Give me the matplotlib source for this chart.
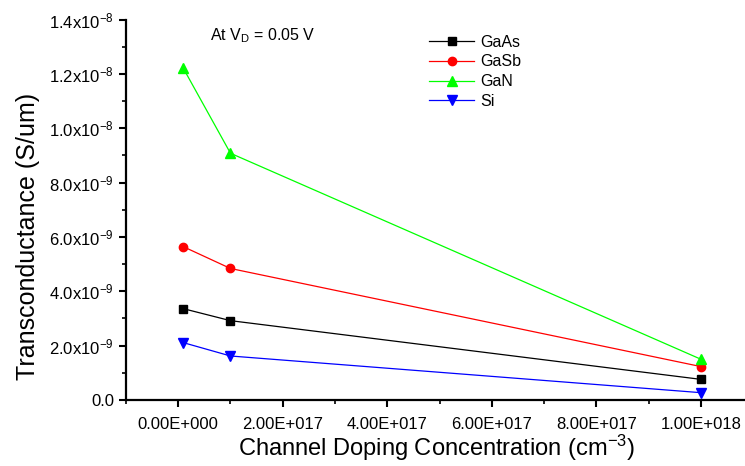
import matplotlib.pyplot as plt
from matplotlib.ticker import MultipleLocator

plt.rcParams['font.family'] = ['Liberation Sans', 'DejaVu Sans']
plt.rcParams['mathtext.fontset'] = 'custom'
plt.rcParams['mathtext.rm'] = 'Liberation Sans'
plt.rcParams['mathtext.it'] = 'Liberation Sans:italic'

# doping (cm^-3)
doping = [1e16, 1e17, 1e18]
# transconductance (S/um)
gaas = [3.36e-9, 2.92e-9, 0.76e-9]
gasb = [5.64e-9, 4.84e-9, 1.23e-9]
gan = [12.2e-9, 9.08e-9, 1.5e-9]
si = [2.11e-9, 1.62e-9, 0.27e-9]

xticks = [0, 2e17, 4e17, 6e17, 8e17, 1e18]
xticklabels = ['0.00E+000', '2.00E+017', '4.00E+017', '6.00E+017', '8.00E+017', '1.00E+018']
yticks = [0, 2e-9, 4e-9, 6e-9, 8e-9, 1e-8, 1.2e-8, 1.4e-8]
yticklabels = ['0.0', '2.0x10$^{-9}$', '4.0x10$^{-9}$', '6.0x10$^{-9}$', '8.0x10$^{-9}$',
               '1.0x10$^{-8}$', '1.2x10$^{-8}$', '1.4x10$^{-8}$']

fig = plt.figure(figsize=(7.45, 4.66), dpi=100)
ax = fig.add_axes([0.169, 0.1416, 0.835, 0.8165])

ax.plot(doping, gaas, color='black', marker='s', ms=5.5, lw=0.9, label='GaAs')
ax.plot(doping, gasb, color='#ff0000', marker='o', ms=6, lw=0.9, label='GaSb')
ax.plot(doping, gan, color='#00ff00', marker='^', ms=7.5, lw=0.9, label='GaN')
ax.plot(doping, si, color='#0000ff', marker='v', ms=7.5, lw=0.9, label='Si')

ax.set_xlim(-1e17, 1.09e18)
ax.set_ylim(0, 1.4e-8)
ax.set_xticks(xticks)
ax.set_xticklabels(xticklabels, fontsize=12)
ax.set_yticks(yticks)
ax.set_yticklabels(yticklabels, fontsize=12)
ax.xaxis.set_minor_locator(MultipleLocator(1e17))
ax.yaxis.set_minor_locator(MultipleLocator(1e-9))
ax.tick_params(which='major', length=5, width=1.5, direction='out')
ax.tick_params(which='minor', length=3, width=1.2, direction='out')
ax.tick_params(axis='x', pad=7)

for s in ['top', 'right']:
    ax.spines[s].set_visible(False)
for s in ['left', 'bottom']:
    ax.spines[s].set_linewidth(1.6)

ax.set_xlabel('Channel Doping Concentration (cm$^{-3}$)', fontsize=17, labelpad=1)
ax.set_ylabel('Transconductance (S/um)', fontsize=18)
ax.yaxis.set_label_coords(-0.138, 0.43)

ax.text(0.135, 0.957, 'At V$_\\mathregular{D}$ = 0.05 V', transform=ax.transAxes, fontsize=11.5, va='center')

ax.legend(loc='upper left', bbox_to_anchor=(0.47, 0.99), frameon=False, fontsize=11.5,
          handlelength=2.8, handletextpad=0.35, labelspacing=0.3, borderpad=0.2)

fig.savefig('out.png', dpi=100)
